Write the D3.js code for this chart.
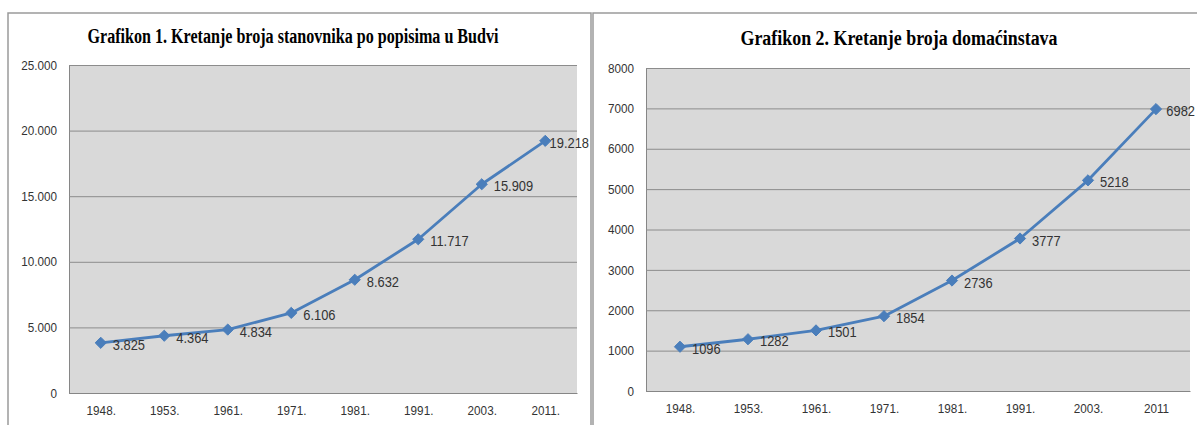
<!DOCTYPE html>
<html>
<head>
<meta charset="utf-8">
<script src="https://cdn.jsdelivr.net/npm/d3@7"></script>
<style>
  html, body { margin: 0; padding: 0; background: #ffffff; }
  svg { display: block; }
</style>
</head>
<body>
<svg id="chart" width="1197" height="425"></svg>
<script>
// ---- Data ----
const years1 = ["1948.", "1953.", "1961.", "1971.", "1981.", "1991.", "2003.", "2011."];
const population = [3825, 4364, 4834, 6106, 8632, 11717, 15909, 19218];
const popLabels = ["3.825", "4.364", "4.834", "6.106", "8.632", "11.717", "15.909", "19.218"];
const popTicks = [0, 5000, 10000, 15000, 20000, 25000];
const popTickLabels = ["0", "5.000", "10.000", "15.000", "20.000", "25.000"];
const title1 = "Grafikon 1. Kretanje broja stanovnika po popisima u Budvi";

const years2 = ["1948.", "1953.", "1961.", "1971.", "1981.", "1991.", "2003.", "2011"];
const households = [1096, 1282, 1501, 1854, 2736, 3777, 5218, 6982];
const hhLabels = ["1096", "1282", "1501", "1854", "2736", "3777", "5218", "6982"];
const hhTicks = [0, 1000, 2000, 3000, 4000, 5000, 6000, 7000, 8000];
const hhTickLabels = ["0", "1000", "2000", "3000", "4000", "5000", "6000", "7000", "8000"];
const title2 = "Grafikon 2. Kretanje broja domaćinstava";

const svg = d3.select("#chart");
const SVG_W = 1197;

function squeeze(sel, k) {
  sel.each(function () {
    const w = this.getComputedTextLength();
    d3.select(this).attr("textLength", w * k).attr("lengthAdjust", "spacingAndGlyphs");
  });
}

function drawChart(cfg) {
  const g = svg.append("g");
  g.append("path")
    .attr("d", `M${cfg.box[0]},${cfg.box[3]} L${cfg.box[0]},${cfg.box[1]} L${cfg.box[2]},${cfg.box[1]} L${cfg.box[2]},${cfg.box[3]}`)
    .attr("fill", "none").attr("stroke", "#9a9a9a").attr("stroke-width", 1.5);

  g.append("text")
    .attr("x", cfg.titleX).attr("y", cfg.titleY)
    .attr("text-anchor", "middle")
    .attr("font-family", "'Liberation Serif', 'Times New Roman', serif")
    .attr("font-weight", "bold")
    .attr("font-size", 20)
    .attr("textLength", cfg.titleLen)
    .attr("lengthAdjust", "spacingAndGlyphs")
    .attr("fill", "#000")
    .text(cfg.title);

  const [x0, y0, x1, y1] = cfg.plot;
  const x = d3.scalePoint().domain(cfg.cats).range([x0, x1]).padding(0.5);
  const y = d3.scaleLinear().domain([0, cfg.max]).range([y1, y0]);

  g.append("rect").attr("x", x0).attr("y", y0).attr("width", x1 - x0).attr("height", y1 - y0)
    .attr("fill", "#d9d9d9");

  const yAxis = d3.axisLeft(y).tickValues(cfg.ticks)
    .tickSize(-(x1 - x0)).tickPadding(12)
    .tickFormat((d, i) => cfg.tickLabels[i]);
  const ya = g.append("g").attr("transform", `translate(${x0},0)`).call(yAxis);
  ya.select(".domain").attr("stroke", "#868686");
  ya.selectAll(".tick line").attr("stroke", "#8c8c8c").attr("stroke-width", 1);
  ya.selectAll(".tick text").attr("font-family", "'Liberation Sans', Arial, sans-serif")
    .attr("font-size", 13).attr("fill", "#333").call(squeeze, 0.9);

  const xAxis = d3.axisBottom(x).tickSize(0).tickPadding(13);
  const xa = g.append("g").attr("transform", `translate(0,${y1})`).call(xAxis);
  xa.select(".domain").attr("stroke", "#868686");
  xa.selectAll(".tick text").attr("font-family", "'Liberation Sans', Arial, sans-serif")
    .attr("font-size", 13).attr("fill", "#333").call(squeeze, 0.9);

  const data = cfg.cats.map((c, i) => ({ c, v: cfg.values[i], l: cfg.labels[i] }));

  const line = d3.line().x(d => x(d.c)).y(d => y(d.v));
  g.append("path").datum(data).attr("d", line)
    .attr("fill", "none").attr("stroke", "#4a7ebb").attr("stroke-width", 2.8)
    .attr("stroke-linejoin", "round");

  const diamond = d3.symbol().type(d3.symbolDiamond2).size(80);
  g.selectAll(".mk").data(data).join("path")
    .attr("transform", d => `translate(${x(d.c)},${y(d.v)})`)
    .attr("d", diamond).attr("fill", "#4a7ebb").attr("stroke", "#4a7ebb").attr("stroke-width", 1);

  const lbl = g.selectAll(".lbl").data(data).join("text")
    .attr("font-family", "'Liberation Sans', Arial, sans-serif")
    .attr("font-size", 14).attr("fill", "#333")
    .attr("y", d => y(d.v) + 7)
    .text(d => d.l)
    .call(squeeze, 0.92);
  lbl.attr("x", function (d) {
    const w = this.getComputedTextLength();
    let px = x(d.c) + 12;
    const limit = Math.min(cfg.box[2], SVG_W) - 2;
    if (px + w > limit) px = limit - w;
    return px;
  });
}

drawChart({
  box: [8, 13, 591, 430],
  title: title1, titleX: 293, titleY: 43, titleLen: 411,
  plot: [69, 65, 577, 393],
  cats: years1, values: population, labels: popLabels,
  max: 25000, ticks: popTicks, tickLabels: popTickLabels
});

drawChart({
  box: [593, 13, 1206, 430],
  title: title2, titleX: 899, titleY: 45, titleLen: 317,
  plot: [646, 68, 1190, 391],
  cats: years2, values: households, labels: hhLabels,
  max: 8000, ticks: hhTicks, tickLabels: hhTickLabels
});
</script>
</body>
</html>
